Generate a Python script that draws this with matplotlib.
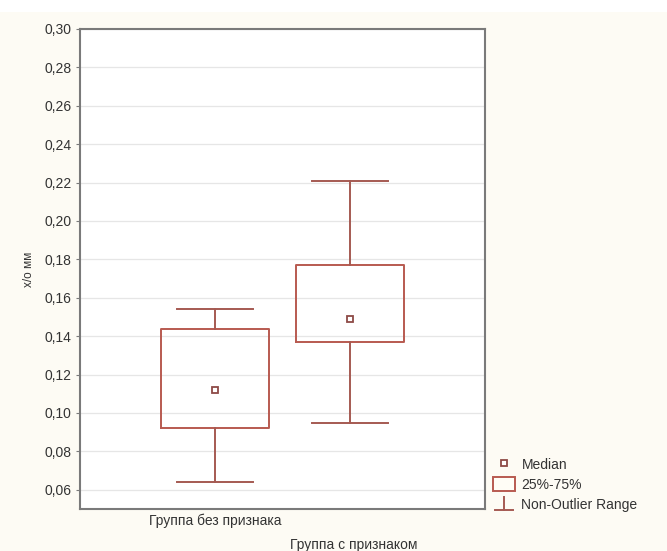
import matplotlib
matplotlib.use('Agg')
import matplotlib.pyplot as plt
from matplotlib.patches import Rectangle
from matplotlib.lines import Line2D
from matplotlib.legend_handler import HandlerBase

# ---- data ----
categories = ['Группа без признака', 'Группа с признаком']
whisker_low = [0.064, 0.095]
q1 = [0.092, 0.137]
medians = [0.112, 0.149]
q3 = [0.144, 0.177]
whisker_high = [0.154, 0.221]
y_ticks = [0.06, 0.08, 0.10, 0.12, 0.14, 0.16, 0.18, 0.20, 0.22, 0.24, 0.26, 0.28, 0.30]
y_label = 'х/о мм'
legend_labels = ['Median', '25%-75%', 'Non-Outlier Range']

plt.rcParams['font.family'] = ['Liberation Sans', 'DejaVu Sans']

box_c = '#b85a50'
whisk_c = '#a55a52'
med_c = '#8e4a46'
frame_c = '#7a7a7a'
text_c = '#333333'

fig = plt.figure(figsize=(6.67, 5.51), dpi=100, facecolor='#fdfbf4')
fig.patches.append(Rectangle((0, 1 - 12 / 551), 1, 12 / 551, transform=fig.transFigure,
                             facecolor='white', edgecolor='none', zorder=-5))

ax = fig.add_axes([80 / 667, 42 / 551, 405 / 667, 480 / 551])
ax.set_facecolor('white')

positions = [1, 2]
stats = []
for i in range(len(categories)):
    stats.append(dict(whislo=whisker_low[i], q1=q1[i], med=medians[i], q3=q3[i],
                      whishi=whisker_high[i], fliers=[]))

ax.bxp(stats, positions=positions, widths=0.8, capwidths=0.56, showfliers=False,
       boxprops=dict(color=box_c, lw=1.4),
       whiskerprops=dict(color=whisk_c, lw=1.4),
       capprops=dict(color=whisk_c, lw=1.4),
       medianprops=dict(visible=False), manage_ticks=False, zorder=3)
ax.plot(positions, medians, 's', ms=4.5, mfc='white', mec=med_c, mew=1.3, ls='none', zorder=4)

ax.set_xlim(0, 3)
ax.set_ylim(0.05, 0.30)
ax.set_yticks(y_ticks)
ax.set_yticklabels([f'{v:.2f}'.replace('.', ',') for v in y_ticks])
ax.set_xticks([])
ax.tick_params(axis='y', length=3, width=0.8, color=frame_c, labelsize=10, labelcolor=text_c, pad=3)
ax.yaxis.grid(True, color='#e6e6e6', lw=0.9)
ax.set_axisbelow(True)
for s in ax.spines.values():
    s.set_color(frame_c)
    s.set_linewidth(1.5)

ax.set_ylabel(y_label, fontsize=8.5, color=text_c, labelpad=7)

tr = ax.get_xaxis_transform()
ax.text(positions[0], -0.025, categories[0], transform=tr, ha='center', va='center',
        fontsize=10, color=text_c)
ax.text(positions[1] + 0.03, -0.075, categories[1], transform=tr, ha='center', va='center',
        fontsize=10, color=text_c)


class WhiskerHandler(HandlerBase):
    def create_artists(self, legend, orig_handle, xdescent, ydescent, width, height, fontsize, trans):
        cx = width / 2 - xdescent
        bot = -ydescent + height * 0.05
        top = -ydescent + height * 1.0
        v = Line2D([cx, cx], [bot, top], color=whisk_c, lw=1.4, transform=trans)
        c = Line2D([cx - width * 0.4, cx + width * 0.4], [bot, bot], color=whisk_c, lw=1.4,
                   transform=trans)
        return [v, c]


class WhiskerGlyph:
    pass


h_med = Line2D([], [], marker='s', ms=4.5, mfc='white', mec=med_c, mew=1.3, ls='none')
h_box = Rectangle((0, 0), 1, 1, facecolor='#fffdf6', edgecolor=box_c, lw=1.4)
h_wh = WhiskerGlyph()
fig.legend([h_med, h_box, h_wh], legend_labels, loc='upper left',
           bbox_to_anchor=(493 / 667, 1 - 457 / 551), frameon=False, fontsize=10,
           handlelength=1.6, handleheight=1.15, labelspacing=0.4, handletextpad=0.45,
           borderpad=0, borderaxespad=0, labelcolor=text_c,
           handler_map={WhiskerGlyph: WhiskerHandler()})

fig.savefig('out.png', dpi=100, facecolor=fig.get_facecolor())
